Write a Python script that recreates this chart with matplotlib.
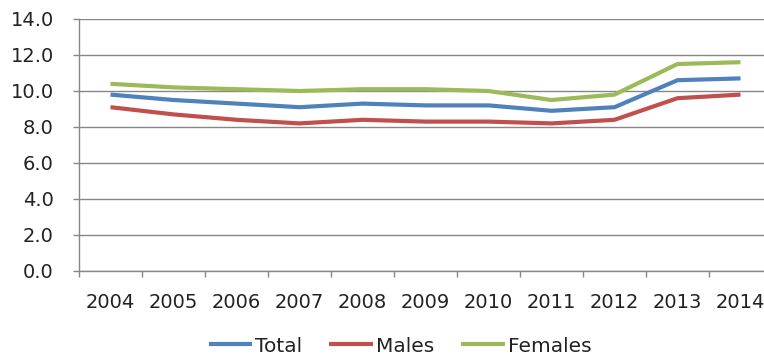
import matplotlib
matplotlib.use('Agg')
import matplotlib.pyplot as plt

years = ['2004', '2005', '2006', '2007', '2008', '2009', '2010', '2011', '2012', '2013', '2014']
total = [9.8, 9.5, 9.3, 9.1, 9.3, 9.2, 9.2, 8.9, 9.1, 10.6, 10.7]
males = [9.1, 8.7, 8.4, 8.2, 8.4, 8.3, 8.3, 8.2, 8.4, 9.6, 9.8]
females = [10.4, 10.2, 10.1, 10.0, 10.1, 10.1, 10.0, 9.5, 9.8, 11.5, 11.6]

W, H = 764, 354
fig = plt.figure(figsize=(W / 100, H / 100), dpi=100)
# plot area runs slightly past the right edge of the figure
ax = fig.add_axes([79 / W, 83 / H, 693 / W, 252 / H])

x = list(range(len(years)))
ax.plot(x, total, color='#4F81BD', lw=3.0, label='Total', solid_capstyle='butt')
ax.plot(x, males, color='#C0504D', lw=3.0, label='Males', solid_capstyle='butt')
ax.plot(x, females, color='#9BBB59', lw=3.0, label='Females', solid_capstyle='butt')

ax.set_xlim(-0.5, len(years) - 0.5)
ax.set_ylim(0, 14)
ax.set_yticks([0, 2, 4, 6, 8, 10, 12, 14])
ax.set_yticklabels(['%.1f' % v for v in ax.get_yticks()])

# year labels at centres, tick marks at category boundaries
ax.set_xticks(x)
ax.set_xticklabels(years)
ax.set_xticks([i - 0.5 for i in range(len(years) + 1)], minor=True)
ax.tick_params(axis='x', which='major', length=0, pad=16, labelsize=14, colors='#222222')
ax.tick_params(axis='x', which='minor', length=4.5, width=1, color='#878787', direction='out')
ax.tick_params(axis='y', length=4.5, width=1, color='#878787', pad=13.5, labelsize=14, labelcolor='#222222')

ax.grid(axis='y', color='#878787', lw=1)
ax.set_axisbelow(True)
for side in ['top', 'right']:
    ax.spines[side].set_visible(False)
for side in ['left', 'bottom']:
    ax.spines[side].set_color('#878787')
    ax.spines[side].set_linewidth(1)

fig.legend(loc='center', bbox_to_anchor=(400 / W, 8 / H), ncol=3, frameon=False,
           fontsize=14.5, handlelength=2.15, handletextpad=0.15, columnspacing=1.35,
           borderpad=0, labelcolor='#222222')

fig.savefig('out.png', dpi=100)
